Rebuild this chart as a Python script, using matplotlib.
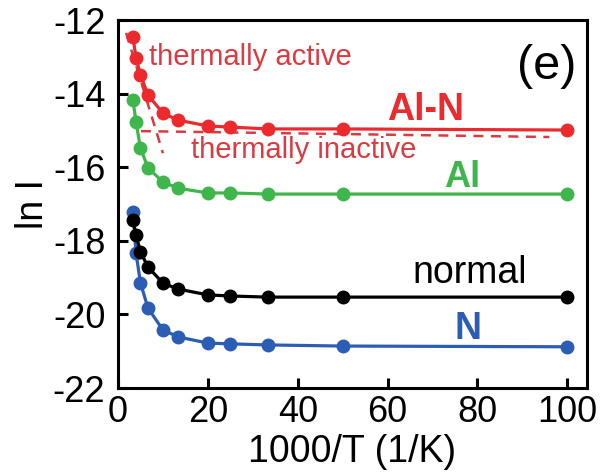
import matplotlib
matplotlib.use("Agg")
import matplotlib.pyplot as plt

plt.rcParams['font.family'] = ['Liberation Sans', 'DejaVu Sans']
plt.rcParams['axes.unicode_minus'] = False

# 1000/T values (1/K)
x_vals = [3.33, 4, 5, 6.67, 10, 13.33, 20, 25, 33.33, 50, 100]

ln_al_n = [-12.46, -13.03, -13.49, -14.04, -14.53, -14.72, -14.88, -14.91, -14.96, -14.96, -14.99]
ln_al = [-14.17, -14.77, -15.48, -16.02, -16.40, -16.57, -16.70, -16.70, -16.73, -16.73, -16.73]
ln_normal = [-17.43, -17.84, -18.30, -18.71, -19.15, -19.31, -19.47, -19.50, -19.53, -19.53, -19.53]
ln_n = [-17.22, -18.33, -19.14, -19.83, -20.42, -20.61, -20.78, -20.80, -20.83, -20.86, -20.88]

# guide lines (dashed)
active_x = [1.8, 10]
active_y = [-12.35, -15.62]
inactive_x = [5.1, 96]
inactive_y = [-15.02, -15.18]

yticks = [-22, -20, -18, -16, -14, -12]
xticks = [0, 20, 40, 60, 80, 100]

RED = '#ec2a2e'
RED_TXT = '#dc3a40'
GREEN = '#3fb64b'
BLUE = '#2c5db5'

fig = plt.figure(figsize=(6.06, 4.75), dpi=100)
ax = fig.add_axes([118/606, 1 - 388/475, (587 - 118)/606, (388 - 20)/475])

# dashed guides
ax.plot(active_x, active_y, '--', color=RED_TXT, lw=1.8, dashes=(4, 3), zorder=1)
ax.plot(inactive_x, inactive_y, '--', color=RED_TXT, lw=1.8, dashes=(4, 3), zorder=1)

kw = dict(lw=2.3, marker='o', ms=9, zorder=3)
ax.plot(x_vals, ln_n, color=BLUE, **kw)
ax.plot(x_vals, ln_normal, color='black', **kw)
ax.plot(x_vals, ln_al, color=GREEN, **kw)
ax.plot(x_vals, ln_al_n, color=RED, **kw)

# labels
ax.text(6.9, -13.22, "thermally active", color=RED_TXT, fontsize=21, va='baseline')
ax.text(16.2, -15.75, "thermally inactive", color=RED_TXT, fontsize=21, va='baseline')
ax.text(68.4, -14.72, "Al-N", color=RED, fontsize=27, fontweight='bold', ha='center', va='baseline')
ax.text(76.7, -16.54, "Al", color=GREEN, fontsize=26, fontweight='bold', ha='center', va='baseline')
ax.text(78.2, -19.15, "normal", color='black', fontsize=27, ha='center', va='baseline')
ax.text(78.0, -20.67, "N", color=BLUE, fontsize=27, fontweight='bold', ha='center', va='baseline')
ax.text(95.5, -13.25, "(e)", color='black', fontsize=35, ha='center', va='center')

ax.set_xlim(0, 104.4)
ax.set_ylim(-22, -12)
ax.set_xticks(xticks)
ax.set_yticks(yticks)
ax.set_xlabel("1000/T (1/K)", fontsize=27, labelpad=3)
ax.set_ylabel("ln I", fontsize=27, labelpad=1)

for s in ax.spines.values():
    s.set_linewidth(2.2)
ax.tick_params(direction='in', length=7, width=2.2, labelsize=26)
ax.tick_params(axis='y', pad=9)
ax.tick_params(axis='x', pad=5)

fig.savefig("out.png", dpi=100)
